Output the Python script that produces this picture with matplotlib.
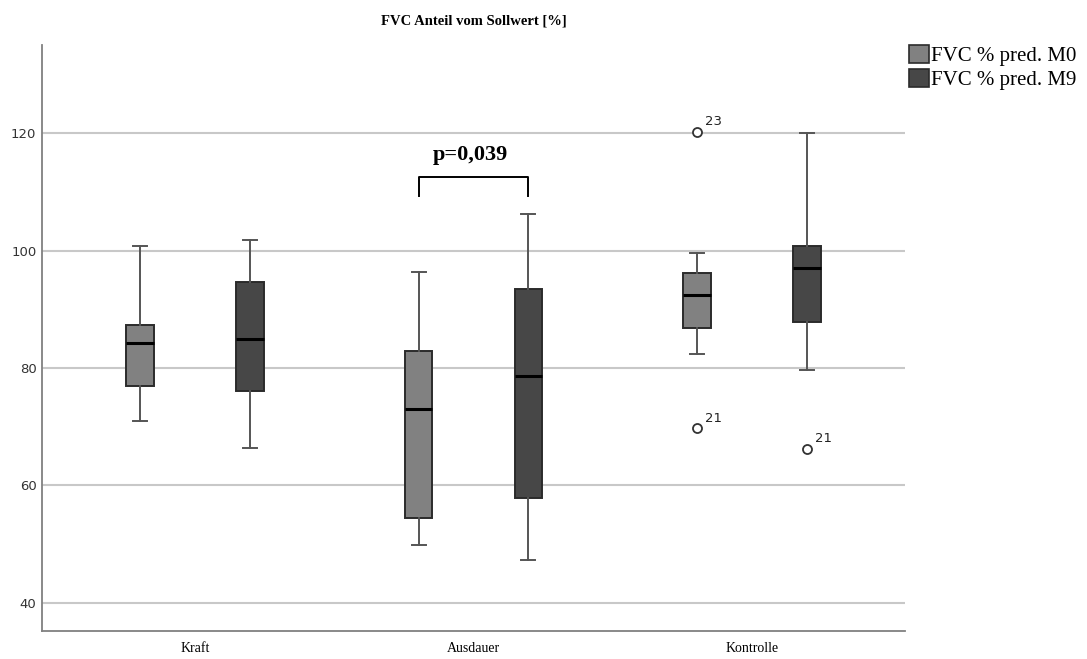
import numpy as np
import matplotlib
matplotlib.use("Agg")
import matplotlib.pyplot as plt
from matplotlib.patches import Patch

# Gruppen und Boxplot-Kennwerte
gruppen = ["Kraft", "Ausdauer", "Kontrolle"]
serien = ["FVC % pred. M0", "FVC % pred. M9"]

# [gruppe] -> (whislo, q1, med, q3, whishi)
m0_stats = [(71.0, 77.0, 84.2, 87.4, 100.8),
            (49.8, 54.4, 73.0, 82.9, 96.3),
            (82.4, 86.8, 92.4, 96.1, 99.6)]
m9_stats = [(66.3, 76.1, 84.9, 94.6, 101.8),
            (47.3, 57.9, 78.6, 93.4, 106.3),
            (79.6, 87.9, 97.1, 100.8, 120.0)]

# Ausreisser: (wert, fallnummer)
m0_ausreisser = [[], [], [(120.2, "23"), (69.7, "21")]]
m9_ausreisser = [[], [], [(66.2, "21")]]

p_text = "p=0,039"

farben = ["#818181", "#474747"]

fig = plt.figure(figsize=(10.87, 6.59), dpi=100)
ax = fig.add_axes([0.0386, 0.0425, 0.794, 0.889])

versatz = 0.197
breite = 0.099
for s, (stats, fl, farbe) in enumerate(zip([m0_stats, m9_stats],
                                          [m0_ausreisser, m9_ausreisser], farben)):
    bxp = []
    pos = []
    for i, st in enumerate(stats):
        bxp.append(dict(whislo=st[0], q1=st[1], med=st[2], q3=st[3], whishi=st[4],
                        fliers=[v for v, _ in fl[i]]))
        pos.append(i + (versatz if s else -versatz))
    ax.bxp(bxp, positions=pos, widths=breite, patch_artist=True, showfliers=True,
           boxprops=dict(facecolor=farbe, edgecolor="#2b2b2b", linewidth=1.4),
           medianprops=dict(color="black", linewidth=2.2),
           whiskerprops=dict(color="#555555", linewidth=1.4),
           capprops=dict(color="#555555", linewidth=1.4),
           capwidths=breite * 0.5,
           flierprops=dict(marker="o", markerfacecolor="white", markeredgecolor="#333333",
                           markersize=6.5, markeredgewidth=1.3),
           zorder=3)
    for i, liste in enumerate(fl):
        for v, lab in liste:
            ax.annotate(lab, (pos[i], v), xytext=(6, 5), textcoords="offset points",
                        fontsize=9.5, color="#222222", family="DejaVu Sans")

ax.set_xlim(-0.55, 2.55)
ax.set_ylim(35.2, 135.0)
ax.set_yticks([40, 60, 80, 100, 120])
ax.set_xticks(range(len(gruppen)))
ax.set_xticklabels(gruppen, family="Liberation Serif", fontsize=10)
ax.tick_params(axis="both", length=0, pad=8)
ax.tick_params(axis="y", labelsize=9.5, labelcolor="#333333", pad=4)
ax.yaxis.grid(True, color="#c8c8c8", linewidth=1.5, zorder=0)
ax.set_axisbelow(True)
for sp in ["top", "right"]:
    ax.spines[sp].set_visible(False)
for sp in ["left", "bottom"]:
    ax.spines[sp].set_color("#808080")
    ax.spines[sp].set_linewidth(1.3)

# Signifikanzklammer Ausdauer
x1, x2 = 1 - versatz, 1 + versatz
ax.plot([x1, x1, x2, x2], [109.3, 112.5, 112.5, 109.3], color="black", lw=1.4, zorder=4)
ax.text(0.99, 116.3, p_text, ha="center", va="center", family="Liberation Serif",
        fontweight="bold", fontsize=16)

ax.set_title("FVC Anteil vom Sollwert [%]", family="Liberation Serif",
             fontweight="bold", fontsize=10.5, pad=15)

handles = [Patch(facecolor=f, edgecolor="#2b2b2b", linewidth=1.2) for f in farben]
fig.legend(handles, serien, loc="upper left", bbox_to_anchor=(0.836, 0.932),
           frameon=False, prop=dict(family="Liberation Serif", size=15),
           handlelength=0.95, handleheight=0.95, handletextpad=0.12,
           labelspacing=0.15, borderaxespad=0, borderpad=0)

fig.savefig("out.png", dpi=100)
